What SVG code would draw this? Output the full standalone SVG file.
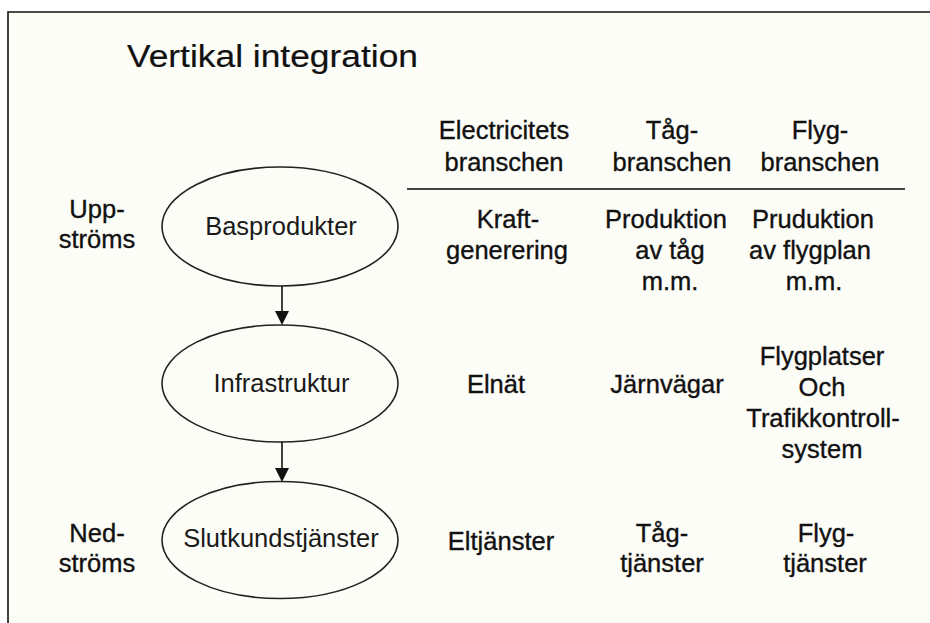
<svg xmlns="http://www.w3.org/2000/svg" width="930" height="623" viewBox="0 0 930 623">
<style>
text{font-family:"Liberation Sans",Arial,sans-serif;font-size:25.5px;fill:#111;stroke:#111;stroke-width:0.35;text-anchor:middle}
.node ellipse{fill:#fdfdf8;stroke:#222;stroke-width:1.6}
.node text{stroke:none;fill:#1a1a1a}
.conn line{stroke:#111;stroke-width:1.6}
.conn polygon{fill:#111}
</style>
<rect x="0" y="0" width="930" height="623" fill="#ffffff"/>
<rect x="8" y="12" width="930" height="623" fill="#fdfdf8"/>
<path d="M8,623 V12 H930" fill="none" stroke="#111" stroke-width="1.6"/>
<text x="127" y="67" style="text-anchor:start;font-size:31px;stroke-width:0.2" textLength="291" lengthAdjust="spacingAndGlyphs">Vertikal integration</text>
<g id="headers">
<text x="504" y="139">Electricitets</text>
<text x="504" y="171">branschen</text>
<text x="672" y="139">Tåg-</text>
<text x="672" y="171">branschen</text>
<text x="820" y="139">Flyg-</text>
<text x="820" y="171">branschen</text>
<line x1="407" y1="189" x2="905" y2="189" stroke="#444" stroke-width="2"/>
</g>
<g id="side-labels">
<text x="97" y="218">Upp-</text>
<text x="97" y="248">ströms</text>
<text x="97" y="542">Ned-</text>
<text x="97" y="572">ströms</text>
</g>
<g id="n-basprodukter" class="node">
<ellipse cx="280" cy="226.5" rx="118" ry="59.5"/>
<text x="281" y="235">Basprodukter</text>
</g>
<g id="n-infrastruktur" class="node">
<ellipse cx="280" cy="383.5" rx="118" ry="58.5"/>
<text x="281.5" y="392">Infrastruktur</text>
</g>
<g id="n-slutkund" class="node">
<ellipse cx="280" cy="540" rx="118" ry="58.5"/>
<text x="281" y="547">Slutkundstjänster</text>
</g>
<g id="connectors" class="conn">
<line x1="282" y1="286" x2="282" y2="312"/>
<polygon points="275,311 289,311 282,325"/>
<line x1="282" y1="442" x2="282" y2="469"/>
<polygon points="275,468 289,468 282,482"/>
</g>
<g id="row-bas">
<text x="508" y="228">Kraft-</text>
<text x="507" y="259">generering</text>
<text x="666" y="228">Produktion</text>
<text x="670" y="259">av tåg</text>
<text x="670" y="290">m.m.</text>
<text x="813" y="228">Pruduktion</text>
<text x="810" y="259">av flygplan</text>
<text x="814" y="290">m.m.</text>
</g>
<g id="row-infra">
<text x="496" y="393">Elnät</text>
<text x="667" y="393">Järnvägar</text>
<text x="822" y="365">Flygplatser</text>
<text x="822" y="396">Och</text>
<text x="823" y="427">Trafikkontroll-</text>
<text x="822" y="458">system</text>
</g>
<g id="row-slut">
<text x="501" y="550">Eltjänster</text>
<text x="662" y="542">Tåg-</text>
<text x="662" y="572">tjänster</text>
<text x="826" y="542">Flyg-</text>
<text x="825" y="572">tjänster</text>
</g>
</svg>
